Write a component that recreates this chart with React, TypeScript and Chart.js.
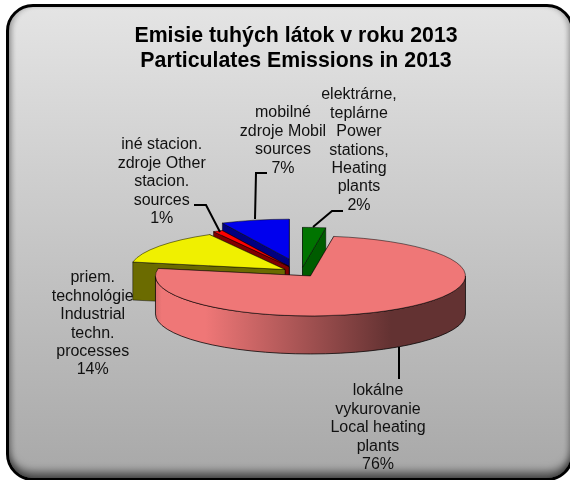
import React, { useEffect, useRef } from "react";
import { Chart, registerables } from "chart.js";

Chart.register(...registerables);

const titleLines = ["Emisie tuhých látok v roku 2013", "Particulates Emissions in 2013"];
const categories = [
  ["elektrárne,", "teplárne", "Power", "stations,", "Heating", "plants"],
  ["lokálne", "vykurovanie", "Local heating", "plants"],
  ["priem.", "technológie", "Industrial", "techn.", "processes"],
  ["iné stacion.", "zdroje Other", "stacion.", "sources"],
  ["mobilné", "zdroje Mobil", "sources"],
];
const values = [2.4, 75.6, 13.9, 1.0, 7.1];
const displayedPercents = ["2%", "76%", "14%", "1%", "7%"];

const topColors = ["#007400", "#EF7777", "#F0F000", "#FF0000", "#0000EE"];
const sideColors = ["#005C00", "#633232", "#6B6B00", "#800000", "#000080"];
const explosion = [20, 16.4, 19.7, 26, 53];
const paintOrder = [4, 3, 2, 0, 1];
const labelCenters = [[359, 95], [378, 391], [92.7, 278], [161.7, 145], [283, 113]];
const leaderLines = [
  [[343, 211], [332, 211], [313, 227]],
  [[399, 347], [399, 379]],
  [],
  [[194, 205], [206, 205], [220, 232]],
  [[267, 173], [256, 173], [255, 219]],
];

const PIE_X = 301;
const PIE_Y = 272.5;
const RADIUS = 155;
const TILT = 0.258;
const DEPTH = 38;
const LINE_H = 18.4;

const pie3d = {
  id: "pie3d",
  beforeDatasetDraw(chart: any, args: any) {
    const ctx = chart.ctx;
    const arcs = chart.getDatasetMeta(args.index).data;
    for (const i of paintOrder) {
      const arc = arcs[i];
      const { startAngle: a0, endAngle: a1, outerRadius: r } = arc;
      const mid = (a0 + a1) / 2;
      const sx = PIE_X + Math.cos(mid) * explosion[i];
      const sy = PIE_Y + Math.sin(mid) * explosion[i] * TILT;
      const px = (a: number) => sx + r * Math.cos(a);
      const py = (a: number) => sy + r * TILT * Math.sin(a);

      ctx.save();
      ctx.lineWidth = 0.6;
      ctx.strokeStyle = "rgba(0,0,0,0.75)";
      ctx.fillStyle = sideColors[i];
      const faces = py(a0) < py(a1) ? [a0, a1] : [a1, a0];
      for (const a of faces) {
        ctx.beginPath();
        ctx.moveTo(sx, sy);
        ctx.lineTo(px(a), py(a));
        ctx.lineTo(px(a), py(a) + DEPTH);
        ctx.lineTo(sx, sy + DEPTH);
        ctx.closePath();
        ctx.fill();
        ctx.stroke();
      }
      const lo = Math.max(a0, 0);
      const hi = Math.min(a1, Math.PI);
      if (hi > lo) {
        if (i === 1) {
          const g = ctx.createLinearGradient(sx - r, 0, sx + r, 0);
          g.addColorStop(0, "#D86C6C");
          g.addColorStop(0.02, "#EF7777");
          g.addColorStop(0.16, "#EF7777");
          g.addColorStop(0.76, sideColors[i]);
          g.addColorStop(1, sideColors[i]);
          ctx.fillStyle = g;
        }
        ctx.beginPath();
        ctx.ellipse(sx, sy, r, r * TILT, 0, lo, hi, false);
        ctx.ellipse(sx, sy + DEPTH, r, r * TILT, 0, hi, lo, true);
        ctx.closePath();
        ctx.fill();
        ctx.lineWidth = 1;
        ctx.stroke();
      }
      ctx.restore();

      ctx.save();
      ctx.translate(sx, sy);
      ctx.scale(1, TILT);
      ctx.translate(-arc.x, -arc.y);
      arc.draw(ctx);
      ctx.restore();
    }
    return false;
  },
};

const calloutLabels = {
  id: "calloutLabels",
  afterDraw(chart: any) {
    const ctx = chart.ctx;
    ctx.save();
    ctx.font = '16px "Liberation Sans"';
    ctx.fillStyle = "#111";
    ctx.textAlign = "center";
    ctx.textBaseline = "middle";
    categories.forEach((lines, i) => {
      const [cx, cy] = labelCenters[i];
      [...lines, displayedPercents[i]].forEach((t, j) => ctx.fillText(t, cx, cy + j * LINE_H));
    });
    ctx.strokeStyle = "#000";
    ctx.lineWidth = 2;
    leaderLines.forEach((pts) => {
      if (!pts.length) return;
      ctx.beginPath();
      pts.forEach(([x, y], j) => (j ? ctx.lineTo(x, y) : ctx.moveTo(x, y)));
      ctx.stroke();
    });
    ctx.restore();
  },
};

export default function App() {
  const ref = useRef<HTMLCanvasElement>(null);
  useEffect(() => {
    const chart = new Chart(ref.current as HTMLCanvasElement, {
      type: "pie",
      data: {
        labels: categories.map((c) => c.join(" ")),
        datasets: [{
          data: values,
          backgroundColor: topColors,
          borderColor: "rgba(0,0,0,0.8)",
          borderWidth: 1,
        }],
      },
      options: {
        responsive: false,
        animation: false,
        radius: RADIUS,
        layout: { padding: { left: 22, top: 24 } },
        plugins: {
          legend: { display: false },
          tooltip: { enabled: false },
          title: {
            display: true,
            text: titleLines,
            color: "#000",
            padding: 0,
            font: { family: '"Liberation Sans"', size: 21.3, weight: "bold", lineHeight: 1.174 },
          },
        },
      } as any,
      plugins: [pie3d, calloutLabels],
    });
    return () => chart.destroy();
  }, []);
  return (
    <div style={{ position: "fixed", left: 0, top: 0, width: 570, height: 480, overflow: "hidden", background: "#fff" }}>
      <div
        style={{
          position: "absolute",
          left: 6,
          top: 4,
          width: 562,
          height: 471,
          border: "3px solid #000",
          borderRadius: 27,
          background: "linear-gradient(180deg,#E4E4E4 0%,#A8A8A8 100%)",
          boxShadow: "inset 0 -9px 8px -3px rgba(0,0,0,0.55), inset 5px 0 5px -2px rgba(0,0,0,0.22), inset -5px 0 5px -2px rgba(0,0,0,0.22)",
        }}
      />
      <canvas ref={ref} width={570} height={480} style={{ position: "absolute", left: 0, top: 0, display: "block" }} />
    </div>
  );
}
